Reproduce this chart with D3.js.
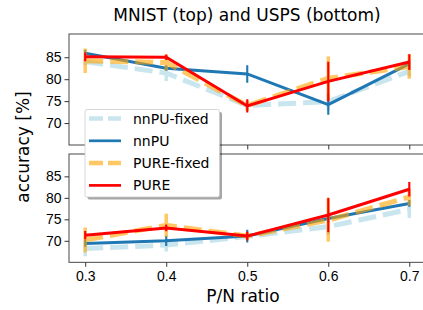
<!DOCTYPE html>
<html>
<head>
<meta charset="utf-8">
<script src="https://cdn.jsdelivr.net/npm/d3@7"></script>
<style>
  body { margin: 0; background: #fff; }
  svg { display: block; font-family: "DejaVu Sans", sans-serif; }
</style>
</head>
<body>
<svg id="canvas"></svg>
<script>
var w = 423;
var h = 310;

// P/N ratios on the x axis
var ratios = [0.3, 0.4, 0.5, 0.6, 0.7]
var yTicks = [70, 75, 80, 85]
var seriesNames = ['nnPU-fixed', 'nnPU', 'PURE-fixed', 'PURE']

// MNIST (top panel): mean accuracy and error half-width
var mnistNnpuFixed = [84.0, 81.4, 74.0, 74.9, 81.8]
var mnistNnpuFixedErr = [0.8, 1.8, 0.8, 2.0, 1.2]
var mnistNnpu = [85.9, 82.5, 81.2, 74.2, 83.5]
var mnistNnpuErr = [0.8, 0.6, 2.0, 2.3, 0.8]
var mnistPureFixed = [84.2, 83.8, 74.0, 80.2, 82.9]
var mnistPureFixedErr = [2.8, 1.8, 1.2, 5.0, 2.8]
var mnistPure = [85.1, 85.0, 73.9, 79.5, 83.9]
var mnistPureErr = [1.0, 0.6, 1.5, 4.5, 1.8]

// USPS (bottom panel)
var uspsNnpuFixed = [68.2, 69.0, 71.0, 73.3, 77.3]
var uspsNnpuFixedErr = [1.8, 1.5, 0.8, 2.0, 2.0]
var uspsNnpu = [69.4, 70.0, 71.1, 75.2, 78.7]
var uspsNnpuErr = [0.8, 1.2, 1.5, 0.8, 0.8]
var uspsPureFixed = [70.2, 73.6, 71.1, 74.8, 80.2]
var uspsPureFixedErr = [2.9, 2.7, 0.8, 5.0, 2.0]
var uspsPure = [71.3, 73.0, 71.1, 76.0, 82.0]
var uspsPureErr = [1.0, 0.8, 1.0, 4.0, 1.7]

var styles = {
  'nnPU-fixed': {color: '#add8e6', width: 5, dash: '18,7', opacity: 0.65},
  'nnPU': {color: '#1f77b4', width: 3, dash: null, opacity: 1},
  'PURE-fixed': {color: '#ffa500', width: 5, dash: '18,7', opacity: 0.6},
  'PURE': {color: '#ff0000', width: 3, dash: null, opacity: 1}
}

var panels = [
  {top: 34, bottom: 145, domain: [65, 90.3], labels: false,
   series: [[mnistNnpuFixed, mnistNnpuFixedErr], [mnistNnpu, mnistNnpuErr],
            [mnistPureFixed, mnistPureFixedErr], [mnistPure, mnistPureErr]]},
  {top: 154, bottom: 262.3, domain: [65, 90.2], labels: true,
   series: [[uspsNnpuFixed, uspsNnpuFixedErr], [uspsNnpu, uspsNnpuErr],
            [uspsPureFixed, uspsPureFixedErr], [uspsPure, uspsPureErr]]}
]

var svg = d3.select('#canvas')
  .attr('width', w)
  .attr('height', h)
  .attr('viewBox', [0, 0, w, h])

var x = d3.scaleLinear().domain([0.28, 0.72]).range([69, 425.5])

svg.append('text')
  .attr('x', 247).attr('y', 21)
  .attr('text-anchor', 'middle')
  .style('font-size', '17px')
  .text('MNIST (top) and USPS (bottom)')

panels.forEach(function(p, pi){
  var y = d3.scaleLinear().domain(p.domain).range([p.bottom, p.top])
  var g = svg.append('g')
  var clipId = 'clip' + pi
  svg.append('clipPath').attr('id', clipId)
    .append('rect')
    .attr('x', 69).attr('y', p.top)
    .attr('width', 425.5 - 69).attr('height', p.bottom - p.top)

  // y axis
  var yAxis = g.append('g')
    .attr('transform', 'translate(69,0)')
    .call(d3.axisLeft(y).tickValues(yTicks).tickSize(4.5).tickPadding(3))
  yAxis.select('.domain').remove()
  yAxis.selectAll('text').style('font-size', '14px').attr('fill', '#000')
  yAxis.selectAll('line').attr('stroke', '#000').attr('stroke-width', 0.8)

  // x axis
  var xAxis = g.append('g')
    .attr('transform', 'translate(0,' + p.bottom + ')')
    .call(d3.axisBottom(x).tickValues(ratios).tickSize(4.5).tickPadding(4)
      .tickFormat(p.labels ? d3.format('.1f') : ''))
  xAxis.select('.domain').remove()
  xAxis.selectAll('text').style('font-size', '14px').attr('fill', '#000')
  xAxis.selectAll('line').attr('stroke', '#000').attr('stroke-width', 0.8)

  var plot = g.append('g').attr('clip-path', 'url(#' + clipId + ')')
  p.series.forEach(function(s, si){
    var st = styles[seriesNames[si]]
    var pts = ratios.map(function(r, i){ return {x: r, v: s[0][i], e: s[1][i]} })
    var sg = plot.append('g').attr('opacity', st.opacity)
    sg.selectAll('.err')
      .data(pts)
      .enter()
      .append('line')
      .attr('x1', d => x(d.x)).attr('x2', d => x(d.x))
      .attr('y1', d => y(d.v - d.e)).attr('y2', d => y(d.v + d.e))
      .attr('stroke', st.color)
      .attr('stroke-width', st.width * 0.7)
    sg.append('path')
      .datum(pts)
      .attr('d', d3.line().x(d => x(d.x)).y(d => y(d.v)))
      .attr('fill', 'none')
      .attr('stroke', st.color)
      .attr('stroke-width', st.width)
      .attr('stroke-dasharray', st.dash)
  })

  // frame
  g.append('rect')
    .attr('x', 69).attr('y', p.top)
    .attr('width', 425.5 - 69).attr('height', p.bottom - p.top)
    .attr('fill', 'none').attr('stroke', '#333').attr('stroke-width', 0.9)
})

svg.append('text')
  .attr('transform', 'translate(28.5,147) rotate(-90)')
  .attr('text-anchor', 'middle')
  .style('font-size', '17px')
  .text('accuracy [%]')

svg.append('text')
  .attr('x', 243).attr('y', 302)
  .attr('text-anchor', 'middle')
  .style('font-size', '17px')
  .text('P/N ratio')

// legend, spanning both panels
var lg = svg.append('g').attr('transform', 'translate(85,109.5)')
lg.append('rect')
  .attr('x', 2.5).attr('y', 2.5)
  .attr('width', 134.5).attr('height', 87.5).attr('rx', 2)
  .attr('fill', '#000').attr('opacity', 0.35)
lg.append('rect')
  .attr('width', 134.5).attr('height', 87.5).attr('rx', 2)
  .attr('fill', '#fff').attr('stroke', '#ccc').attr('stroke-width', 0.8)
seriesNames.forEach(function(n, i){
  var st = styles[n]
  var yy = 9 + i * 22.3
  lg.append('line')
    .attr('x1', 4).attr('x2', 36).attr('y1', yy).attr('y2', yy)
    .attr('stroke', st.color).attr('stroke-width', st.width * 0.9)
    .attr('stroke-dasharray', st.dash ? '14,5' : null)
    .attr('opacity', st.opacity)
  lg.append('text')
    .attr('x', 48).attr('y', yy + 5)
    .style('font-size', '14px')
    .text(n)
})
</script>
</body>
</html>
